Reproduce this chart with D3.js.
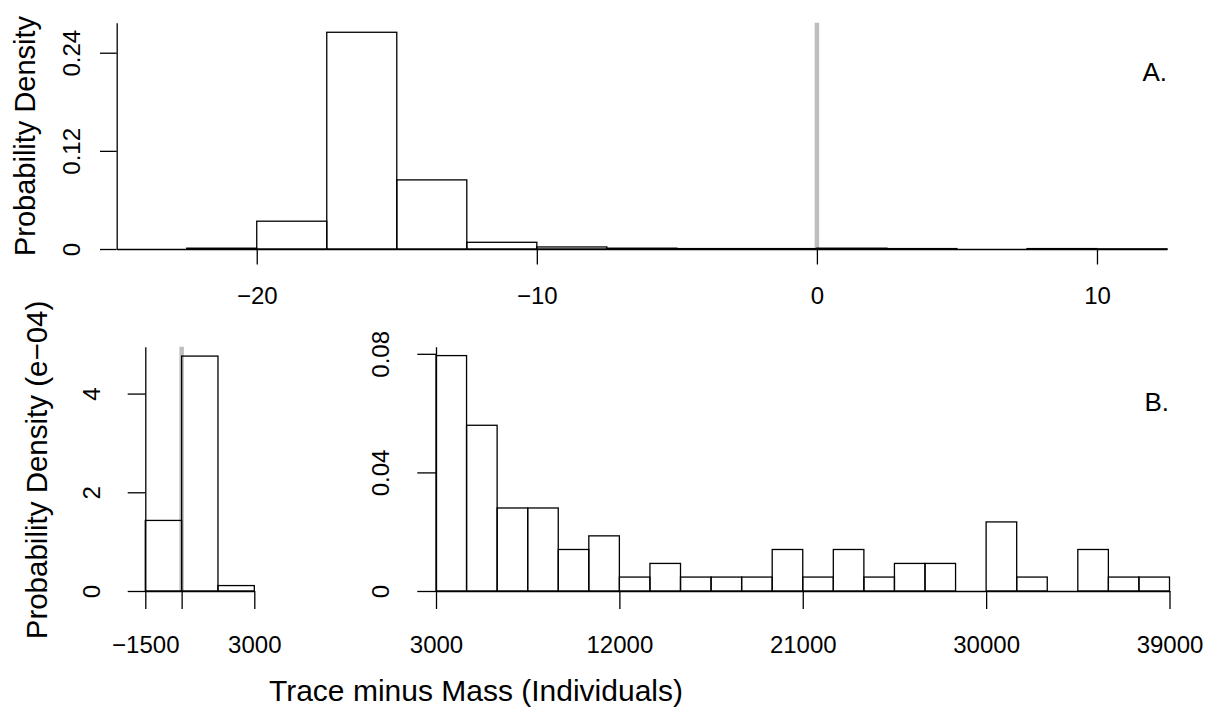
<!DOCTYPE html>
<html>
<head>
<meta charset="utf-8">
<script src="https://cdn.jsdelivr.net/npm/d3@7"></script>
<style>
  html, body { margin: 0; padding: 0; background: #fff; }
  svg text { font-family: "Liberation Sans", Arial, Helvetica, sans-serif; fill: #000; }
</style>
</head>
<body>
<svg id="chart" width="1227" height="711"></svg>
<script>
// Panel A: differences on the log scale, bin width 2.5
const aEdges = [-22.5, -20, -17.5, -15, -12.5, -10, -7.5, -5, -2.5, 0, 2.5, 5, 7.5, 10, 12.5];
const aDensity = [0.001, 0.034, 0.265, 0.0845, 0.0082, 0.0025, 0.001, 0.0005, 0.0005, 0.001, 0.0005, 0, 0.0005, 0.0002];
const aXTicks = [-20, -10, 0, 10];
const aYTicks = [0, 0.12, 0.24];

// Panel B (left): small differences, densities in units of 1e-04
const bLowEdges = [-1500, 0, 1500, 3000];
const bLowDensity = [1.43, 4.76, 0.11];
const bLowXTicks = [-1500, 0, 3000];
const bLowXLabels = ["\u22121500", "", "3000"];
const bLowYTicks = [0, 2, 4];

// Panel B (right): large differences, bin width 1500
const bHighEdges = [3000, 4500, 6000, 7500, 9000, 10500, 12000, 13500, 15000, 16500, 18000, 19500,
  21000, 22500, 24000, 25500, 27000, 28500, 30000, 31500, 33000, 34500, 36000, 37500, 39000];
const bHighDensity = [0.0794, 0.0559, 0.0280, 0.0280, 0.0140, 0.0186, 0.0047, 0.0093, 0.0047, 0.0047,
  0.0047, 0.0140, 0.0047, 0.0140, 0.0047, 0.0093, 0.0093, 0, 0.0233, 0.0047, 0, 0.0140, 0.0047, 0.0047];
const bHighXTicks = [3000, 12000, 21000, 30000, 39000];
const bHighYTicks = [0, 0.04, 0.08];

// Observed reference value (trace equals mass)
const refValue = 0;

const svg = d3.select("#chart");
const fmtMinus = v => String(v).replace("-", "\u2212");

function histogram(g, edges, dens, x, y) {
  const bins = dens.map((d, i) => ({ x0: edges[i], x1: edges[i + 1], d }));
  g.append("g").selectAll("rect").data(bins).join("rect")
    .attr("x", b => x(b.x0))
    .attr("width", b => x(b.x1) - x(b.x0))
    .attr("y", b => y(b.d))
    .attr("height", b => y(0) - y(b.d))
    .attr("fill", "none")
    .attr("stroke", "#000")
    .attr("stroke-width", 1.3);
}

function refLine(g, x, y) {
  const [y0, y1] = y.range();
  g.append("line")
    .attr("x1", x(refValue)).attr("x2", x(refValue))
    .attr("y1", y0).attr("y2", y1)
    .attr("stroke", "#bebebe").attr("stroke-width", 4.5);
}

function xAxis(g, x, y, ticks, labels, tickLen, pad) {
  const ax = d3.axisBottom(x).tickValues(ticks).tickSize(tickLen).tickSizeOuter(0)
    .tickPadding(pad).tickFormat((d, i) => labels[i]);
  const a = g.append("g").attr("transform", `translate(0,${y(0)})`).call(ax);
  a.attr("font-family", null);
  a.select(".domain").attr("stroke-width", 1.3);
  a.selectAll(".tick line").attr("stroke-width", 1.3);
  a.selectAll("text").attr("font-size", 24);
}

function yAxis(g, x, y, ticks, labels, tickLen, off) {
  const ax = d3.axisLeft(y).tickValues(ticks).tickSize(tickLen).tickSizeOuter(0)
    .tickFormat((d, i) => labels[i]);
  const a = g.append("g").attr("transform", `translate(${x.range()[0]},0)`).call(ax);
  a.attr("font-family", null);
  a.select(".domain").attr("stroke-width", 1.3);
  a.selectAll(".tick line").attr("stroke-width", 1.3);
  a.selectAll("text")
    .attr("x", null)
    .attr("font-size", 24)
    .attr("text-anchor", "middle")
    .attr("transform", `translate(${-off},0) rotate(-90)`)
    .attr("dy", "0.35em");
}

// ---- Panel A ----
{
  const x = d3.scaleLinear().domain([-25, 12.5]).range([116.7, 1167]);
  const y = d3.scaleLinear().domain([0, 0.2767]).range([249, 22.7]);
  const g = svg.append("g");
  refLine(g, x, y);
  histogram(g, aEdges, aDensity, x, y);
  xAxis(g, x, y, aXTicks, aXTicks.map(fmtMinus), 15.5, 22);
  yAxis(g, x, y, aYTicks, aYTicks.map(String), 16.7, 45);
  g.append("text").attr("x", 1167).attr("y", 81).attr("text-anchor", "end")
    .attr("font-size", 26).text("A.");
  g.append("text").attr("transform", `translate(35,136) rotate(-90)`)
    .attr("text-anchor", "middle").attr("font-size", 29).text("Probability Density");
}

// ---- Panel B, left ----
{
  const x = d3.scaleLinear().domain([-1500, 3000]).range([145.3, 254.3]);
  const y = d3.scaleLinear().domain([0, 4.95]).range([591, 346.7]);
  const g = svg.append("g");
  refLine(g, x, y);
  histogram(g, bLowEdges, bLowDensity, x, y);
  xAxis(g, x, y, bLowXTicks, bLowXLabels, 18, 27);
  yAxis(g, x, y, bLowYTicks, bLowYTicks.map(String), 17.6, 54);
  g.append("text").attr("transform", `translate(47,470) rotate(-90)`)
    .attr("text-anchor", "middle").attr("font-size", 29.5).text("Probability Density (e\u221204)");
}

// ---- Panel B, right ----
{
  const x = d3.scaleLinear().domain([3000, 39000]).range([436, 1169.5]);
  const y = d3.scaleLinear().domain([0, 0.0824]).range([591, 346.7]);
  const g = svg.append("g");
  histogram(g, bHighEdges, bHighDensity, x, y);
  xAxis(g, x, y, bHighXTicks, bHighXTicks.map(String), 18, 27);
  yAxis(g, x, y, bHighYTicks, bHighYTicks.map(String), 18.7, 55);
  g.append("text").attr("x", 1169).attr("y", 411).attr("text-anchor", "end")
    .attr("font-size", 26).text("B.");
}

// Shared x-axis title
svg.append("text").attr("x", 476).attr("y", 701).attr("text-anchor", "middle")
  .attr("font-size", 30).text("Trace minus Mass (Individuals)");
</script>
</body>
</html>
